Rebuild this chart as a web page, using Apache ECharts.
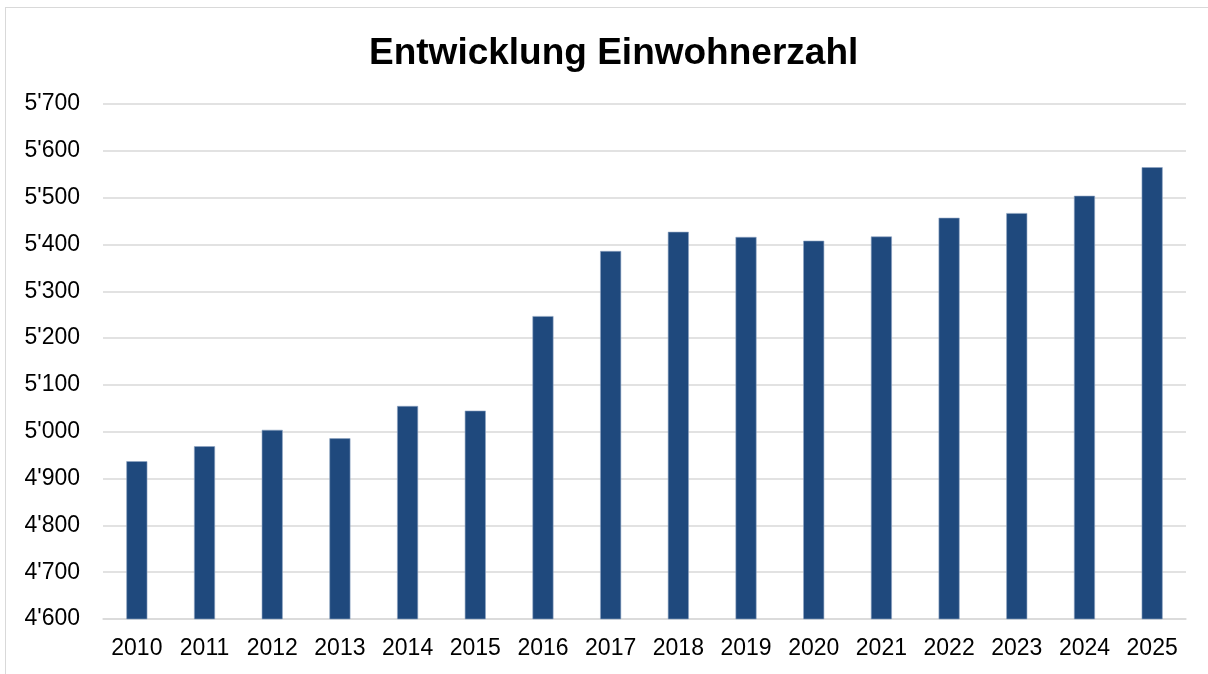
<!DOCTYPE html>
<html>
<head>
<meta charset="utf-8">
<script src="https://cdn.jsdelivr.net/npm/echarts@6/dist/echarts.min.js"></script>
<style>
  html, body { margin: 0; padding: 0; background: #fff; }
  #frame {
    position: absolute; left: 5px; top: 7px; width: 1220px; height: 700px;
    border: 1.5px solid #d9d9d9; box-sizing: border-box;
  }
  #chart { position: absolute; left: 0; top: 0; width: 1208px; height: 674px; }
</style>
</head>
<body>
<div id="frame"></div>
<div id="chart"></div>
<script>
// Jahre und Einwohnerzahl
const years = ['2010', '2011', '2012', '2013', '2014', '2015', '2016', '2017',
               '2018', '2019', '2020', '2021', '2022', '2023', '2024', '2025'];
const population = [4937, 4969, 5004, 4986, 5055, 5045, 5247, 5386,
                    5427, 5416, 5408, 5417, 5457, 5467, 5504, 5565];
const yMin = 4600;
const yMax = 5700;
const yStep = 100;

function swissNumber(v) {
  // 5700 -> 5'700
  return String(v).replace(/\B(?=(\d{3})+(?!\d))/g, "'");
}

let myChart = echarts.init(document.getElementById('chart'));
myChart.setOption({
  animation: false,
  title: {
    text: 'Entwicklung Einwohnerzahl',
    left: 364,
    top: 30,
    textStyle: {
      fontFamily: 'Liberation Sans, Arial, sans-serif',
      fontWeight: 'bold',
      fontSize: 37,
      color: '#000'
    }
  },
  grid: { left: 103, right: 22, top: 104, bottom: 55 },
  xAxis: {
    type: 'category',
    data: years,
    axisTick: { show: false },
    axisLine: { lineStyle: { color: '#d9d9d9', width: 1.5 } },
    axisLabel: {
      color: '#000',
      fontSize: 23,
      fontFamily: 'Liberation Sans, Arial, sans-serif',
      margin: 18,
      interval: 0
    }
  },
  yAxis: {
    type: 'value',
    min: yMin,
    max: yMax,
    interval: yStep,
    axisLine: { show: false },
    axisTick: { show: false },
    splitLine: { lineStyle: { color: '#d9d9d9', width: 1.5 } },
    axisLabel: {
      color: '#000',
      fontSize: 23,
      fontFamily: 'Liberation Sans, Arial, sans-serif',
      margin: 23,
      formatter: swissNumber
    }
  },
  series: [{
    type: 'bar',
    data: population,
    barWidth: '31%',
    itemStyle: {
      color: '#1f497d',
      borderColor: '#8ea4c2',
      borderWidth: 0.6
    }
  }]
});
</script>
</body>
</html>
